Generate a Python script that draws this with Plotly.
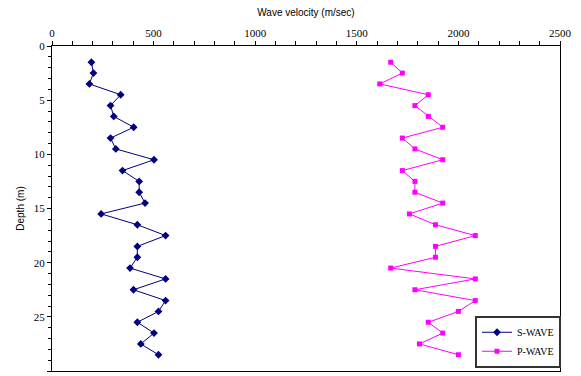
import plotly.graph_objects as go

depth = [1.5, 2.5, 3.5, 4.5, 5.5, 6.5, 7.5, 8.5, 9.5, 10.5, 11.5, 12.5, 13.5, 14.5,
         15.5, 16.5, 17.5, 18.5, 19.5, 20.5, 21.5, 22.5, 23.5, 24.5, 25.5, 26.5, 27.5, 28.5]
s_wave = [194, 204, 184, 338, 288, 304, 402, 288, 314, 502, 347, 429, 429, 458,
          242, 420, 559, 420, 420, 384, 559, 401, 559, 524, 420, 502, 437, 524]
p_wave = [1667, 1724, 1613, 1852, 1786, 1852, 1923, 1724, 1786, 1923, 1724, 1786, 1786, 1923,
          1759, 1887, 2083, 1887, 1887, 1667, 2083, 1786, 2083, 2000, 1852, 1923, 1808, 2000]

SERIF = "Liberation Serif"
SANS = "Liberation Sans"

fig = go.Figure()
fig.add_trace(go.Scatter(x=s_wave, y=depth, mode="lines+markers", name="S-WAVE",
                         line=dict(color="#000080", width=1),
                         marker=dict(symbol="diamond", size=6, color="#000080")))
fig.add_trace(go.Scatter(x=p_wave, y=depth, mode="lines+markers", name="P-WAVE",
                         line=dict(color="#FF00FF", width=1),
                         marker=dict(symbol="square", size=5, color="#FF00FF")))

fig.update_layout(
    width=581, height=376,
    margin=dict(l=52, r=21, t=46, b=5),
    paper_bgcolor="white", plot_bgcolor="white",
    showlegend=True,
    legend=dict(x=1.002, xanchor="right", y=0.01, yanchor="bottom",
                bgcolor="white", bordercolor="#333333", borderwidth=2,
                font=dict(family=SERIF, size=10, color="black"),
                tracegroupgap=0, itemwidth=30),
    xaxis=dict(side="top", range=[0, 2500], dtick=500, tick0=0, automargin=False,
               showgrid=False, zeroline=False,
               showline=True, linecolor="black", linewidth=1, mirror=True,
               ticks="outside", ticklen=4, tickcolor="black",
               minor=dict(dtick=100, ticks="outside", ticklen=4, tickcolor="black"),
               tickfont=dict(family=SERIF, size=11, color="black"),
               title=dict(text="Wave velocity (m/sec)",
                          font=dict(family=SANS, size=10, color="black"),
                          standoff=8)),
    yaxis=dict(range=[30, 0], dtick=5, tick0=0, automargin=False,
               showgrid=False, zeroline=False,
               showline=True, linecolor="black", linewidth=1, mirror=True,
               ticks="outside", ticklen=4, tickcolor="black",
               minor=dict(dtick=1, ticks="outside", ticklen=3, tickcolor="black"),
               tickfont=dict(family=SERIF, size=11, color="black"),
               title=dict(text="Depth (m)",
                          font=dict(family=SANS, size=10, color="black"),
                          standoff=7)),
)

fig.write_html("out.html",
               config={"displayModeBar": False},
               post_script="document.body.style.margin='0';document.body.style.overflow='hidden';")
